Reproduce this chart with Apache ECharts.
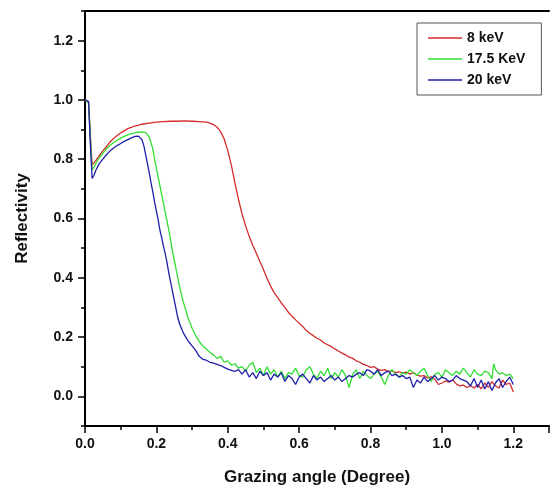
<!DOCTYPE html>
<html>
<head>
<meta charset="utf-8">
<script src="https://cdn.jsdelivr.net/npm/echarts@6/dist/echarts.min.js"></script>
<style>html,body{margin:0;padding:0;background:#fff}#c{width:552px;height:493px}</style>
</head>
<body>
<div id="c"></div>
<script>
const seriesNames = ['8 keV', '17.5 KeV', '20 keV'];
const xTicks = [0.0, 0.2, 0.4, 0.6, 0.8, 1.0, 1.2];
const yTicks = [0.0, 0.2, 0.4, 0.6, 0.8, 1.0, 1.2];

const red8keV = [
[0,1.0],[0.005,1.0],[0.01,0.99],[0.015,0.88],[0.02,0.78],[0.025,0.785],[0.03,0.795],[0.04,0.812],[0.05,0.828],[0.06,0.842],[0.07,0.858],[0.08,0.87],[0.09,0.88],[0.10,0.889],[0.12,0.903],[0.14,0.912],[0.16,0.918],[0.18,0.922],[0.20,0.925],[0.22,0.927],[0.24,0.928],[0.26,0.928],[0.28,0.929],[0.30,0.928],[0.32,0.927],[0.34,0.925],[0.35,0.922],[0.36,0.917],[0.37,0.908],[0.38,0.893],[0.39,0.868],[0.40,0.83],[0.41,0.78],[0.42,0.72],[0.43,0.665],[0.44,0.615],[0.45,0.575],[0.46,0.54],[0.47,0.51],[0.48,0.483],[0.49,0.455],[0.50,0.428],[0.51,0.398],[0.52,0.372],[0.53,0.35],[0.54,0.333],[0.55,0.315],[0.56,0.30],[0.57,0.283],[0.58,0.27],[0.59,0.258],[0.60,0.247],[0.61,0.236],[0.62,0.222],[0.63,0.213],[0.64,0.204],[0.65,0.196],[0.66,0.19],[0.67,0.18],[0.68,0.174],[0.69,0.168],[0.70,0.16],[0.71,0.153],[0.72,0.146],[0.73,0.14],[0.74,0.132],[0.75,0.128],[0.76,0.12],[0.77,0.115],[0.78,0.108],[0.79,0.104],[0.80,0.098],[0.81,0.1],[0.82,0.092],[0.83,0.088],[0.84,0.09],[0.85,0.084],[0.86,0.086],[0.87,0.08],[0.88,0.083],[0.89,0.078],[0.90,0.082],[0.91,0.075],[0.92,0.08],[0.93,0.072],[0.94,0.068],[0.95,0.07],[0.96,0.062],[0.97,0.066],[0.98,0.058],[0.99,0.04],[1.00,0.045],[1.01,0.052],[1.02,0.048],[1.03,0.055],[1.04,0.042],[1.05,0.035],[1.06,0.038],[1.07,0.03],[1.08,0.036],[1.09,0.028],[1.10,0.04],[1.11,0.025],[1.12,0.045],[1.13,0.03],[1.14,0.05],[1.15,0.035],[1.16,0.028],[1.17,0.055],[1.18,0.04],[1.19,0.045],[1.20,0.015]
];

const green175keV = [
[0,1.0],[0.005,1.0],[0.01,0.99],[0.015,0.87],[0.02,0.765],[0.025,0.772],[0.03,0.785],[0.04,0.805],[0.05,0.82],[0.06,0.835],[0.07,0.846],[0.08,0.856],[0.09,0.864],[0.10,0.871],[0.11,0.877],[0.12,0.882],[0.13,0.886],[0.14,0.889],[0.15,0.891],[0.16,0.892],[0.17,0.89],[0.175,0.885],[0.18,0.875],[0.185,0.855],[0.19,0.835],[0.195,0.80],[0.20,0.77],[0.205,0.74],[0.21,0.71],[0.215,0.68],[0.22,0.65],[0.225,0.62],[0.23,0.59],[0.235,0.56],[0.24,0.525],[0.245,0.49],[0.25,0.46],[0.255,0.43],[0.26,0.40],[0.265,0.37],[0.27,0.345],[0.275,0.32],[0.28,0.30],[0.29,0.26],[0.30,0.23],[0.31,0.205],[0.32,0.185],[0.33,0.17],[0.34,0.16],[0.35,0.148],[0.36,0.14],[0.37,0.128],[0.38,0.135],[0.39,0.115],[0.40,0.12],[0.41,0.105],[0.42,0.11],[0.43,0.095],[0.44,0.1],[0.45,0.085],[0.46,0.105],[0.47,0.115],[0.48,0.08],[0.49,0.095],[0.50,0.07],[0.51,0.1],[0.52,0.075],[0.53,0.09],[0.54,0.065],[0.55,0.085],[0.56,0.06],[0.57,0.08],[0.58,0.075],[0.59,0.095],[0.60,0.07],[0.61,0.065],[0.62,0.09],[0.63,0.1],[0.64,0.075],[0.65,0.06],[0.66,0.085],[0.67,0.07],[0.68,0.095],[0.69,0.06],[0.70,0.08],[0.71,0.065],[0.72,0.09],[0.73,0.07],[0.74,0.03],[0.75,0.075],[0.76,0.09],[0.77,0.06],[0.78,0.085],[0.79,0.07],[0.80,0.06],[0.81,0.075],[0.82,0.085],[0.83,0.065],[0.84,0.04],[0.85,0.07],[0.86,0.09],[0.87,0.075],[0.88,0.065],[0.89,0.08],[0.90,0.075],[0.91,0.09],[0.92,0.08],[0.93,0.07],[0.94,0.085],[0.95,0.095],[0.96,0.07],[0.97,0.05],[0.98,0.075],[0.99,0.08],[1.00,0.065],[1.01,0.09],[1.02,0.08],[1.03,0.07],[1.04,0.085],[1.05,0.075],[1.06,0.095],[1.07,0.08],[1.08,0.065],[1.09,0.09],[1.10,0.075],[1.11,0.07],[1.12,0.085],[1.13,0.08],[1.14,0.06],[1.145,0.11],[1.15,0.09],[1.16,0.075],[1.17,0.08],[1.18,0.07],[1.19,0.075],[1.20,0.06]
];

const blue20keV = [
[0,1.0],[0.005,1.0],[0.01,0.995],[0.015,0.85],[0.02,0.735],[0.025,0.745],[0.03,0.762],[0.04,0.785],[0.05,0.80],[0.06,0.815],[0.07,0.828],[0.08,0.838],[0.09,0.846],[0.10,0.853],[0.11,0.86],[0.12,0.866],[0.13,0.872],[0.14,0.877],[0.145,0.879],[0.15,0.878],[0.155,0.874],[0.16,0.865],[0.165,0.845],[0.17,0.815],[0.175,0.785],[0.18,0.755],[0.185,0.72],[0.19,0.69],[0.195,0.655],[0.20,0.625],[0.205,0.595],[0.21,0.56],[0.215,0.535],[0.22,0.505],[0.225,0.48],[0.23,0.45],[0.235,0.415],[0.24,0.385],[0.245,0.355],[0.25,0.325],[0.255,0.295],[0.26,0.265],[0.265,0.245],[0.27,0.23],[0.275,0.215],[0.28,0.21],[0.285,0.195],[0.29,0.185],[0.30,0.17],[0.31,0.155],[0.32,0.135],[0.33,0.125],[0.34,0.122],[0.35,0.115],[0.36,0.112],[0.37,0.108],[0.38,0.104],[0.39,0.098],[0.40,0.092],[0.41,0.088],[0.42,0.084],[0.43,0.09],[0.44,0.075],[0.45,0.09],[0.46,0.065],[0.47,0.08],[0.48,0.06],[0.49,0.085],[0.50,0.07],[0.51,0.08],[0.52,0.055],[0.53,0.075],[0.54,0.065],[0.55,0.08],[0.56,0.05],[0.57,0.07],[0.58,0.06],[0.59,0.04],[0.60,0.065],[0.61,0.075],[0.62,0.06],[0.63,0.045],[0.64,0.07],[0.65,0.055],[0.66,0.065],[0.67,0.05],[0.68,0.06],[0.69,0.07],[0.70,0.055],[0.71,0.065],[0.72,0.05],[0.73,0.06],[0.74,0.07],[0.75,0.065],[0.76,0.075],[0.77,0.08],[0.78,0.07],[0.79,0.09],[0.80,0.085],[0.81,0.075],[0.82,0.09],[0.83,0.07],[0.84,0.08],[0.85,0.085],[0.86,0.07],[0.87,0.075],[0.88,0.065],[0.89,0.07],[0.90,0.06],[0.91,0.065],[0.92,0.03],[0.93,0.055],[0.94,0.045],[0.95,0.065],[0.96,0.05],[0.97,0.06],[0.98,0.07],[0.99,0.055],[1.00,0.065],[1.01,0.06],[1.02,0.05],[1.03,0.055],[1.04,0.07],[1.05,0.06],[1.06,0.055],[1.07,0.05],[1.08,0.035],[1.09,0.06],[1.10,0.03],[1.11,0.055],[1.12,0.025],[1.13,0.05],[1.14,0.02],[1.15,0.045],[1.16,0.06],[1.17,0.03],[1.18,0.05],[1.19,0.065],[1.20,0.04]
];

const colors = ['#d42b2b', '#33dd33', '#1f1fa8'];
const font = 'Liberation Sans, Arial, sans-serif';

function fmt(list) {
  return function (v) {
    for (const t of list) { if (Math.abs(v - t) < 1e-6) return t.toFixed(1); }
    return '';
  };
}

const PX_PER_UNIT_Y = 415 / 1.4;
const labelStyle = {fontFamily: font, fontWeight: 'bold', fontSize: 14, color: '#111'};
const nameStyle = {fontFamily: font, fontWeight: 'bold', fontSize: 17, color: '#111'};

const chart = echarts.init(document.getElementById('c'), null, {renderer: 'canvas'});
chart.setOption({
  animation: false,
  backgroundColor: '#fff',
  color: colors,
  grid: [
    {left: 85, top: 11, width: 470, height: 415, containLabel: false},
    {left: 85, top: 11 + 0.1 * PX_PER_UNIT_Y, width: 470, height: 1.2 * PX_PER_UNIT_Y, containLabel: false}
  ],
  legend: {
    orient: 'vertical', left: 417, top: 23,
    padding: [8, 16, 8, 11],
    icon: 'rect',
    itemWidth: 34, itemHeight: 1.5, itemGap: 7,
    borderColor: '#555', borderWidth: 1,
    textStyle: Object.assign({lineHeight: 14}, labelStyle),
    data: seriesNames
  },
  xAxis: [{
    gridIndex: 0, type: 'value', min: 0, max: 1.3, interval: 0.2,
    name: 'Grazing angle (Degree)', nameLocation: 'middle', nameGap: 43,
    nameTextStyle: nameStyle,
    axisLine: {show: true, onZero: false, lineStyle: {color: '#000', width: 2}},
    axisTick: {show: true, inside: false, length: 7, lineStyle: {color: '#000', width: 1.5}},
    minorTick: {show: true, splitNumber: 2, length: 4, lineStyle: {color: '#000', width: 1.5}},
    axisLabel: Object.assign({formatter: fmt(xTicks), margin: 11}, labelStyle),
    splitLine: {show: false}
  }, {
    gridIndex: 0, type: 'value', position: 'top', min: 0, max: 1.3,
    axisLine: {show: true, onZero: false, lineStyle: {color: '#000', width: 2}},
    axisTick: {show: false}, axisLabel: {show: false}, splitLine: {show: false}
  }, {
    gridIndex: 1, type: 'value', min: 0, max: 1.3, show: false
  }],
  yAxis: [{
    gridIndex: 0, type: 'value', min: -0.1, max: 1.3, interval: 0.1,
    name: 'Reflectivity', nameLocation: 'middle', nameGap: 54,
    nameTextStyle: nameStyle,
    axisLine: {show: true, onZero: false, lineStyle: {color: '#000', width: 2}},
    axisTick: {show: true, inside: false, length: 4, lineStyle: {color: '#000', width: 1.5}},
    axisLabel: {show: false},
    splitLine: {show: false}
  }, {
    gridIndex: 1, type: 'value', min: 0, max: 1.2, interval: 0.2,
    axisLine: {show: false, onZero: false},
    axisTick: {show: true, inside: false, length: 7, lineStyle: {color: '#000', width: 1.5}},
    axisLabel: Object.assign({formatter: fmt(yTicks), margin: 12}, labelStyle),
    splitLine: {show: false}
  }],
  series: [
    {name: seriesNames[0], type: 'line', xAxisIndex: 0, yAxisIndex: 0, data: red8keV, symbol: 'none', lineStyle: {width: 1.3, color: colors[0]}, itemStyle: {color: colors[0]}},
    {name: seriesNames[1], type: 'line', xAxisIndex: 0, yAxisIndex: 0, data: green175keV, symbol: 'none', lineStyle: {width: 1.3, color: colors[1]}, itemStyle: {color: colors[1]}},
    {name: seriesNames[2], type: 'line', xAxisIndex: 0, yAxisIndex: 0, data: blue20keV, symbol: 'none', lineStyle: {width: 1.3, color: colors[2]}, itemStyle: {color: colors[2]}}
  ]
});
</script>
</body>
</html>
